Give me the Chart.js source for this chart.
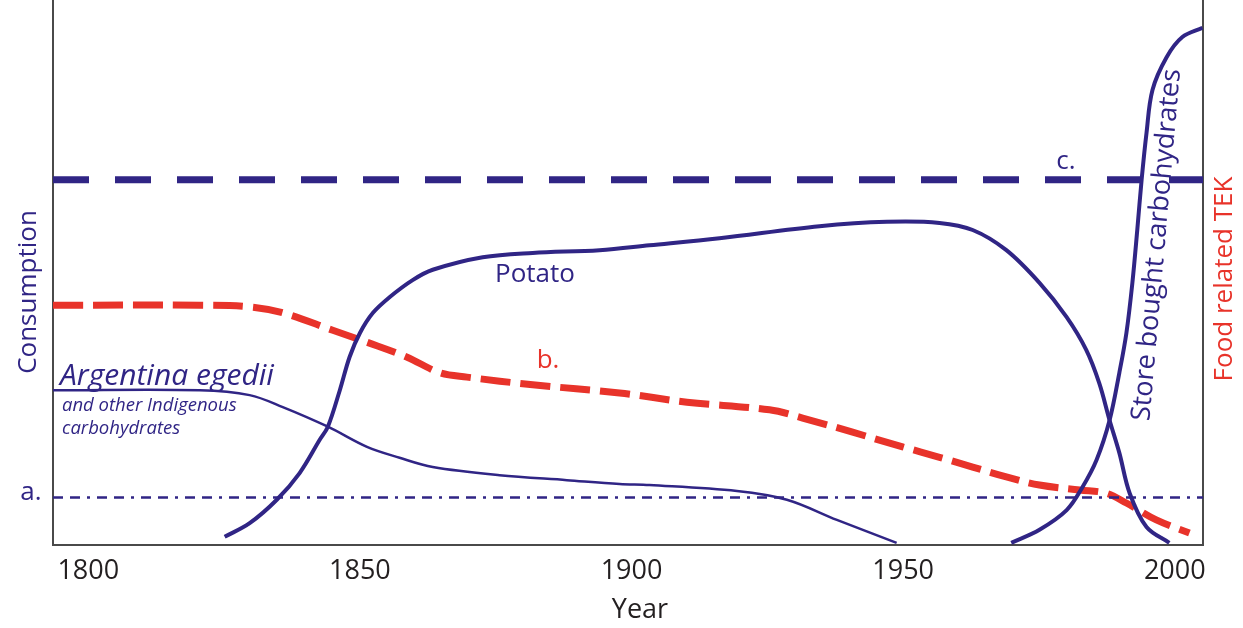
<!DOCTYPE html>
<html>
<head>
<meta charset="utf-8">
<script src="https://cdn.jsdelivr.net/npm/chart.js@4"></script>
<style>
  html, body { margin: 0; padding: 0; background: #fff; }
  #wrap { width: 1243px; height: 628px; }
</style>
</head>
<body>
<div id="wrap"><canvas id="myChart" width="1243" height="628"></canvas></div>
<script>
// values (x = year, y = relative consumption 0-100)
const xTicks = [1800, 1850, 1900, 1950, 2000];

const potatoYears = [1825.1, 1829.7, 1834.7, 1838.9, 1842.6, 1844.1, 1846.3, 1848.1, 1850.0, 1852.4, 1855.5, 1859.7, 1863.4, 1872.6, 1881.8, 1894.1, 1903.3, 1916.2, 1934.6, 1947.0, 1956.7, 1962.8, 1969.0, 1975.1, 1980.1, 1983.7, 1986.1, 1988.0, 1989.8, 1991.7, 1994.8, 1999.0];
const potatoValues = [1.5, 4.0, 8.3, 13.2, 19.3, 21.7, 28.4, 34.5, 38.9, 42.6, 45.5, 48.6, 50.5, 52.8, 53.6, 54.1, 55.0, 56.3, 58.5, 59.3, 59.1, 57.8, 54.1, 48.1, 41.8, 35.8, 29.7, 22.9, 16.9, 9.5, 3.3, 0.4];

const argentinaYears = [1793.5, 1820.5, 1829.7, 1835.8, 1844.1, 1851.3, 1857.3, 1863.4, 1875.7, 1888.1, 1897.8, 1903.3, 1919.4, 1928.6, 1937.8, 1948.8];
const argentinaValues = [28.4, 28.4, 27.5, 25.3, 21.7, 18.0, 16.0, 14.3, 12.8, 11.9, 11.2, 11.0, 9.9, 8.3, 4.6, 0.4];

const storeYears = [1969.9, 1975.1, 1980.1, 1983.0, 1985.6, 1988.0, 1989.8, 1991.1, 1992.2, 1993.1, 1993.9, 1994.8, 1995.9, 1998.5, 2001.4, 2005.1];
const storeValues = [0.4, 2.8, 6.4, 10.6, 15.6, 22.9, 31.6, 38.9, 48.1, 57.8, 67.0, 75.6, 83.5, 89.5, 93.2, 94.9];

const tekYears = [1793.5, 1820.5, 1829.7, 1835.8, 1845.0, 1851.3, 1858.6, 1864.7, 1869.7, 1881.8, 1897.8, 1910.2, 1925.4, 1931.5, 1940.7, 1949.9, 1956.7, 1962.8, 1969.0, 1975.1, 1982.5, 1987.4, 1991.1, 1996.6, 2002.7];
const tekValues = [44.0, 44.0, 43.7, 42.6, 39.4, 37.2, 34.5, 31.6, 30.8, 29.4, 27.9, 26.2, 24.8, 23.3, 20.7, 18.0, 16.1, 14.3, 12.5, 11.0, 10.1, 9.5, 7.7, 4.6, 2.2];

const levelYears = [1793.5, 2005.2];
const levelA = [8.7, 8.7];
const levelC = [67.0, 67.0];

const NAVY = '#302585';
const RED = '#e8332a';
const FONT = "'Open Sans', 'Noto Sans', sans-serif";

function pts(xs, ys) {
  return xs.map((x, i) => ({ x: x, y: ys[i] }));
}

const textPlugin = {
  id: 'texts',
  afterDraw(chart) {
    const ctx = chart.ctx;
    ctx.save();
    ctx.textBaseline = 'middle';

    function txt(s, px, py, color, font, rot, align) {
      ctx.save();
      ctx.translate(px, py);
      if (rot) ctx.rotate(rot);
      ctx.fillStyle = color;
      ctx.font = font;
      ctx.textAlign = align || 'center';
      ctx.fillText(s, 0, 0);
      ctx.restore();
    }

    txt('Year', 640, 610, '#231f20', '27px ' + FONT, 0);
    txt('Consumption', 29, 292, NAVY, '26px ' + FONT, -Math.PI / 2);
    txt('Food related TEK', 1225, 279, RED, '26px ' + FONT, -Math.PI / 2);
    txt('Store bought carbohydrates', 1157, 245, NAVY, '27px ' + FONT, -85 * Math.PI / 180);

    txt('Potato', 535, 275, NAVY, '26px ' + FONT, 0);
    txt('b.', 548, 361, RED, '26px ' + FONT, 0);
    txt('c.', 1066, 162, NAVY, '26px ' + FONT, 0);
    txt('a.', 31, 493, NAVY, '26px ' + FONT, 0);

    txt('Argentina egedii', 60, 376, NAVY, 'italic 30px ' + FONT, 0, 'left');
    txt('and other Indigenous', 62, 406, NAVY, 'italic 18.5px ' + FONT, 0, 'left');
    txt('carbohydrates', 62, 429, NAVY, 'italic 18.5px ' + FONT, 0, 'left');
    ctx.restore();
  }
};

const ctx = document.getElementById('myChart').getContext('2d');
const myChart = new Chart(ctx, {
  type: 'line',
  data: {
    datasets: [
      {
        label: 'c.',
        data: pts(levelYears, levelC),
        borderColor: NAVY,
        borderWidth: 7,
        borderDash: [36, 26],
        tension: 0
      },
      {
        label: 'a.',
        data: pts(levelYears, levelA),
        borderColor: NAVY,
        borderWidth: 2.5,
        borderDash: [10, 7, 10, 7, 3, 7],
        tension: 0
      },
      {
        label: 'Argentina egedii',
        data: pts(argentinaYears, argentinaValues),
        borderColor: NAVY,
        borderWidth: 2.5,
        tension: 0.35
      },
      {
        label: 'Potato',
        data: pts(potatoYears, potatoValues),
        borderColor: NAVY,
        borderWidth: 4,
        tension: 0.35
      },
      {
        label: 'Store bought carbohydrates',
        data: pts(storeYears, storeValues),
        borderColor: NAVY,
        borderWidth: 4,
        tension: 0.35
      },
      {
        label: 'b.',
        data: pts(tekYears, tekValues),
        borderColor: RED,
        borderWidth: 7,
        borderDash: [30, 10],
        tension: 0.35
      }
    ]
  },
  options: {
    responsive: false,
    animation: false,
    events: [],
    layout: { padding: 0 },
    elements: { point: { radius: 0 } },
    plugins: {
      legend: { display: false },
      tooltip: { enabled: false }
    },
    scales: {
      x: {
        type: 'linear',
        position: 'bottom',
        min: 1793.5,
        max: 2005.2,
        grid: { display: false, drawTicks: false },
        border: { display: true, color: '#4a4a4a', width: 2 },
        afterBuildTicks: s => { s.ticks = xTicks.map(v => ({ value: v })); },
        afterFit: s => { s.height = 83; },
        ticks: {
          autoSkip: false,
          maxRotation: 0,
          padding: 10,
          color: '#231f20',
          font: { family: FONT, size: 27 },
          callback: v => String(v)
        }
      },
      y: {
        type: 'linear',
        position: 'left',
        min: 0,
        max: 100,
        grid: { display: false, drawTicks: false },
        border: { display: true, color: '#4a4a4a', width: 2 },
        ticks: { display: false },
        afterFit: s => { s.width = 53; }
      },
      y2: {
        type: 'linear',
        position: 'right',
        display: true,
        min: 0,
        max: 100,
        grid: { display: false, drawTicks: false },
        border: { display: true, color: '#4a4a4a', width: 2 },
        ticks: { display: false },
        afterFit: s => { s.width = 40; }
      }
    }
  },
  plugins: [textPlugin]
});
</script>
</body>
</html>
